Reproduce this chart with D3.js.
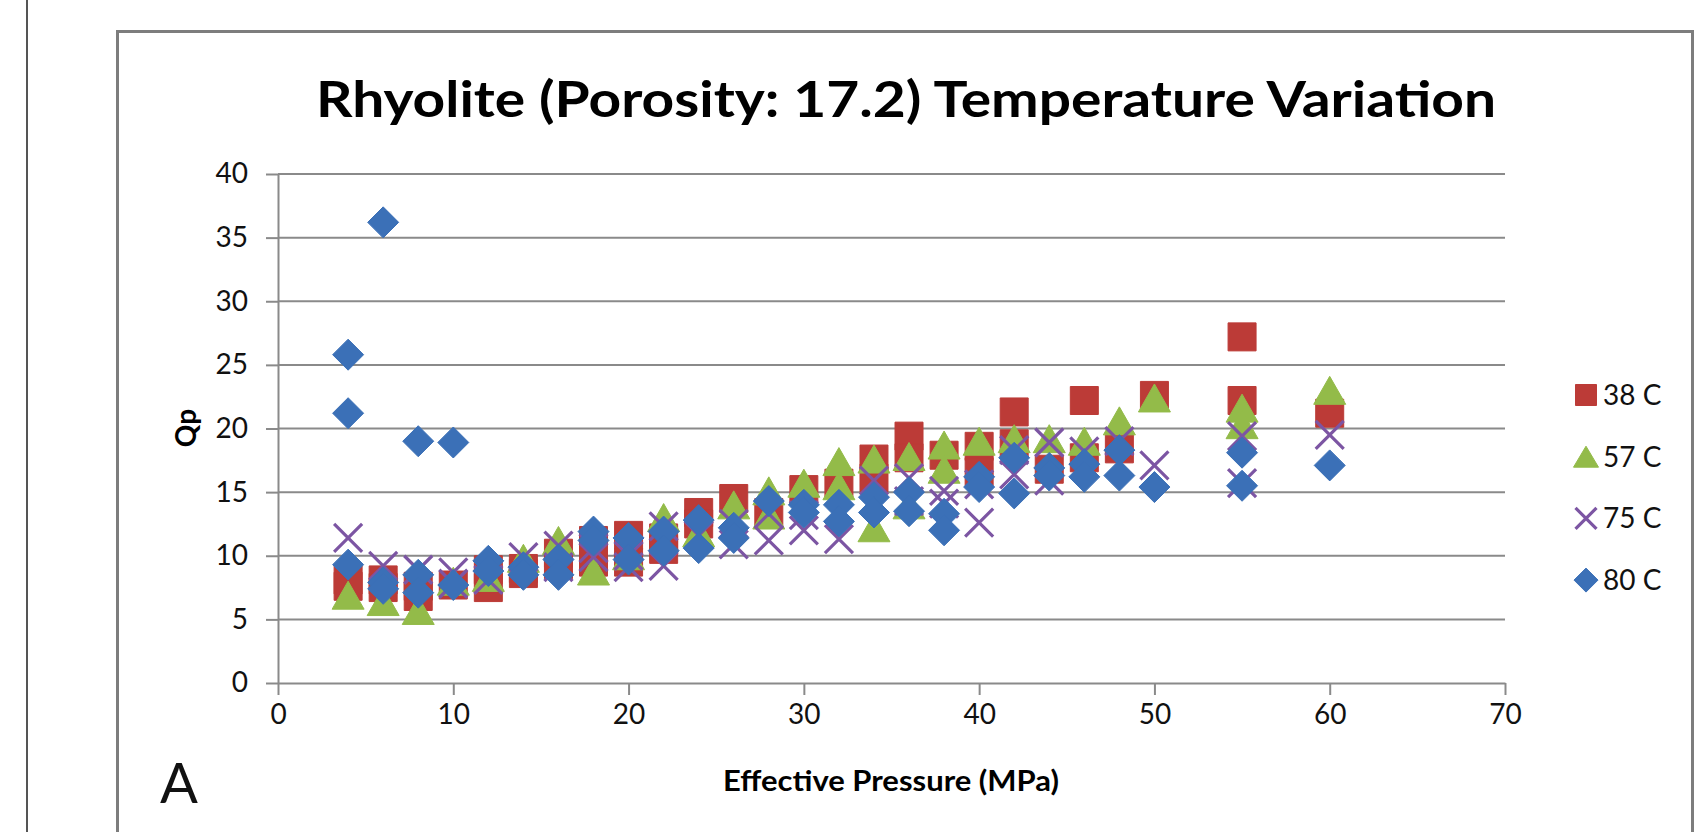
<!DOCTYPE html>
<html>
<head>
<meta charset="utf-8">
<script src="https://cdn.jsdelivr.net/npm/d3@7"></script>
<style>
  html, body { margin: 0; padding: 0; background: #fff; }
  svg { display: block; font-family: Lato, "Open Sans", sans-serif; }
</style>
</head>
<body>
<div id="chart"></div>
<script>
// dati (Qp vs pressione efficace)
var p38  = [4, 4, 6, 6, 8, 8, 10, 12, 12, 14, 14, 16, 16, 18, 18, 20, 20, 22, 22, 24, 24, 26, 28, 30, 32, 34, 34, 36, 36, 38, 40, 40, 42, 42, 44, 46, 46, 48, 50, 55, 55, 60];
var qp38 = [8.1, 7.6, 8.1, 7.5, 7.6, 6.8, 7.7, 8.9, 7.5, 9.0, 8.6, 10.2, 9.3, 11.2, 9.5, 11.6, 9.5, 11.4, 10.5, 13.4, 12.5, 14.5, 13.4, 15.2, 15.7, 17.6, 16.1, 19.4, 17.7, 17.9, 18.6, 16.6, 21.3, 18.8, 16.8, 22.2, 17.7, 18.4, 22.6, 27.2, 22.2, 21.2];

var p57  = [4, 6, 8, 10, 12, 14, 16, 18, 20, 22, 24, 26, 28, 28, 30, 32, 32, 34, 34, 36, 36, 38, 38, 40, 42, 44, 46, 48, 50, 55, 55, 60];
var qp57 = [6.9, 6.4, 5.7, 8.0, 8.3, 9.8, 11.2, 8.8, 10.0, 13.0, 11.8, 14.0, 15.1, 13.2, 15.7, 17.4, 15.5, 17.6, 12.2, 17.8, 14.0, 18.7, 16.8, 19.0, 19.2, 19.2, 19.0, 20.6, 22.4, 21.6, 20.3, 23.0];

var p75  = [4, 6, 8, 10, 10, 12, 14, 16, 16, 18, 18, 20, 20, 22, 22, 24, 26, 26, 28, 28, 30, 30, 32, 34, 36, 36, 38, 38, 40, 40, 42, 42, 44, 44, 46, 48, 50, 55, 55, 60];
var qp75 = [11.4, 9.2, 8.9, 8.7, 7.8, 8.1, 9.9, 10.8, 9.1, 10.6, 9.9, 10.0, 9.1, 12.3, 9.2, 11.6, 12.5, 10.9, 13.3, 11.2, 13.2, 12.0, 11.3, 15.9, 16.1, 14.3, 15.1, 14.1, 15.6, 12.6, 18.3, 16.4, 18.9, 15.9, 18.2, 19.0, 17.1, 19.4, 15.7, 19.5];

var p80  = [4, 4, 4, 6, 6, 6, 8, 8, 8, 10, 10, 12, 12, 14, 14, 16, 16, 18, 18, 20, 20, 22, 22, 24, 24, 26, 26, 28, 30, 30, 32, 32, 34, 34, 36, 36, 38, 38, 40, 40, 42, 42, 44, 44, 46, 46, 48, 48, 50, 55, 55, 60];
var qp80 = [25.8, 21.2, 9.3, 36.2, 7.9, 7.4, 19.0, 8.5, 7.1, 18.9, 7.7, 9.6, 8.8, 9.1, 8.5, 9.7, 8.5, 11.9, 11.2, 11.4, 9.7, 11.9, 10.4, 12.8, 10.6, 12.2, 11.4, 14.3, 14.0, 13.4, 14.0, 12.7, 14.6, 13.4, 15.0, 13.5, 13.3, 12.0, 16.2, 15.4, 17.7, 14.9, 16.9, 16.3, 17.2, 16.2, 18.3, 16.3, 15.4, 18.1, 15.5, 17.1];

var seriesNames = ["38 C", "57 C", "75 C", "80 C"];
var seriesColors = ["#bc3b37", "#93bb49", "#7c55a3", "#3b70b7"];
var seriesShapes = ["square", "triangle", "cross", "diamond"];
var xTicks = [0, 10, 20, 30, 40, 50, 60, 70];
var yTicks = [0, 5, 10, 15, 20, 25, 30, 35, 40];

var width = 1701;
var height = 832;

var svg = d3.select("#chart")
            .append("svg")
            .attr("width", width)
            .attr("height", height);

// linea a sinistra e cornice del grafico
svg.append("line")
   .attr("x1", 27).attr("x2", 27)
   .attr("y1", 0).attr("y2", height)
   .attr("stroke", "#555")
   .attr("stroke-width", 2);

svg.append("rect")
   .attr("x", 117.5).attr("y", 31.5)
   .attr("width", 1575).attr("height", 840)
   .attr("fill", "#fff")
   .attr("stroke", "#7d7d7d")
   .attr("stroke-width", 3);

svg.append("text")
   .attr("x", 906)
   .attr("y", 117)
   .attr("text-anchor", "middle")
   .attr("font-weight", "bold")
   .attr("font-size", 50)
   .attr("textLength", 1180)
   .attr("lengthAdjust", "spacingAndGlyphs")
   .text("Rhyolite (Porosity: 17.2) Temperature Variation");

var x = d3.scaleLinear().domain([0, 70]).range([278, 1505]);
var y = d3.scaleLinear().domain([0, 40]).range([683, 174]);

// griglia orizzontale
svg.append("g")
   .selectAll("line")
   .data(yTicks.filter(function(d) { return d > 0; }))
   .enter()
   .append("line")
   .attr("x1", x(0)).attr("x2", x(70))
   .attr("y1", function(d) { return y(d); })
   .attr("y2", function(d) { return y(d); })
   .attr("stroke", "#8a8a8a")
   .attr("stroke-width", 2);

var yAxis = svg.append("g")
               .attr("transform", "translate(" + x(0) + ",0)")
               .call(d3.axisLeft(y).tickValues(yTicks).tickSize(12).tickSizeOuter(0).tickPadding(18));

var xAxis = svg.append("g")
               .attr("transform", "translate(0," + y(0) + ")")
               .call(d3.axisBottom(x).tickValues(xTicks).tickSize(12).tickSizeOuter(0).tickPadding(9));

[yAxis, xAxis].forEach(function(g) {
    g.select(".domain").attr("stroke", "#8a8a8a").attr("stroke-width", 2);
    g.selectAll(".tick line").attr("stroke", "#8a8a8a").attr("stroke-width", 2);
    g.selectAll(".tick text")
     .attr("font-family", "Lato, sans-serif")
     .attr("font-size", 28)
     .attr("fill", "#111");
});

svg.append("text")
   .attr("transform", "translate(186,428) rotate(-90)")
   .attr("text-anchor", "middle")
   .attr("dy", "0.35em")
   .attr("font-weight", "bold")
   .attr("font-size", 28)
   .text("Qp");

svg.append("text")
   .attr("x", 891)
   .attr("y", 791)
   .attr("text-anchor", "middle")
   .attr("font-weight", "bold")
   .attr("font-size", 28)
   .attr("textLength", 336)
   .attr("lengthAdjust", "spacingAndGlyphs")
   .text("Effective Pressure (MPa)");

svg.append("text")
   .attr("x", 160)
   .attr("y", 803)
   .attr("font-size", 56)
   .attr("fill", "#111")
   .text("A");

// forme dei marker, centrate su (0,0)
function markerPath(shape, s) {
    var h = s / 2;
    if (shape == "square")
        return "M" + (-h) + "," + (-h) + "H" + h + "V" + h + "H" + (-h) + "Z";
    if (shape == "triangle")
        return "M0," + (-h) + "L" + (h + 2) + "," + h + "L" + (-h - 2) + "," + h + "Z";
    if (shape == "diamond")
        return "M0," + (-h - 1.5) + "L" + (h + 1.5) + ",0L0," + (h + 1.5) + "L" + (-h - 1.5) + ",0Z";
    return "M" + (-h) + "," + (-h) + "L" + h + "," + h + "M" + h + "," + (-h) + "L" + (-h) + "," + h;
}

function drawMarker(sel, shape, color, s) {
    var path = sel.append("path").attr("d", markerPath(shape, s));
    if (shape == "cross")
        path.attr("fill", "none").attr("stroke", color).attr("stroke-width", 3.2);
    else
        path.attr("fill", color).attr("stroke", color).attr("stroke-width", 1).attr("stroke-linejoin", "round");
}

var allP = [p38, p57, p75, p80];
var allQ = [qp38, qp57, qp75, qp80];

seriesNames.forEach(function(name, i) {
    var pts = allP[i].map(function(p, j) { return { p: p, q: allQ[i][j] }; });
    var g = svg.append("g").attr("class", "serie");
    g.selectAll("g")
     .data(pts)
     .enter()
     .append("g")
     .attr("transform", function(d) { return "translate(" + x(d.p) + "," + y(d.q) + ")"; })
     .each(function() { drawMarker(d3.select(this), seriesShapes[i], seriesColors[i], 28); });
});

// legenda
var legend = svg.append("g");
seriesNames.forEach(function(name, i) {
    var row = legend.append("g")
                    .attr("transform", "translate(1586," + (395 + i * 61.7) + ")");
    drawMarker(row, seriesShapes[i], seriesColors[i], 21);
    row.append("text")
       .attr("x", 17)
       .attr("dy", "0.36em")
       .attr("font-size", 28)
       .attr("fill", "#111")
       .text(name);
});
</script>
</body>
</html>
